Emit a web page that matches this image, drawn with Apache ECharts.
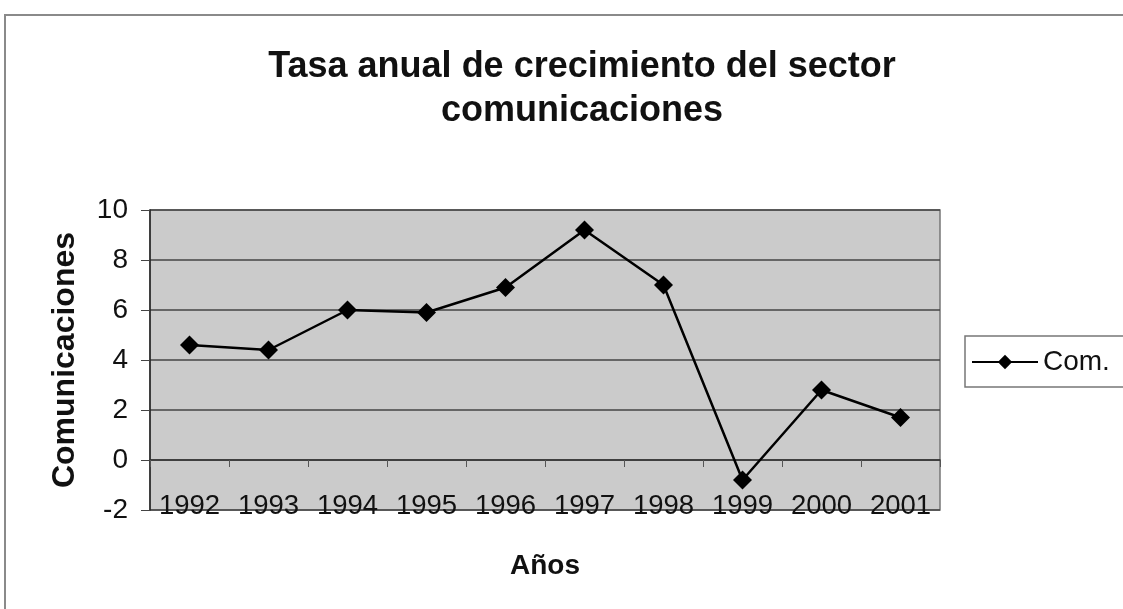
<!DOCTYPE html>
<html>
<head>
<meta charset="utf-8">
<script src="https://cdn.jsdelivr.net/npm/echarts@6/dist/echarts.min.js"></script>
<style>
html,body{margin:0;padding:0;background:#fff;}
#c{width:1123px;height:609px;}
</style>
</head>
<body>
<div id="c"></div>
<script>
const years = ['1992','1993','1994','1995','1996','1997','1998','1999','2000','2001'];
const comValues = [4.6, 4.4, 6.0, 5.9, 6.9, 9.2, 7.0, -0.8, 2.8, 1.7];
const seriesName = 'Com.';
const yMin = -2, yMax = 10, yStep = 2;

const chart = echarts.init(document.getElementById('c'), null, {renderer: 'canvas'});
const font = 'Liberation Sans, Arial, sans-serif';
chart.setOption({
  backgroundColor: '#fff',
  animation: false,
  title: {
    text: 'Tasa anual de crecimiento del sector\ncomunicaciones',
    left: 577, top: 40, textAlign: 'center',
    textStyle: {fontFamily: font, fontSize: 36, fontWeight: 'bold', color: '#111', lineHeight: 44}
  },
  graphic: [{
    type: 'rect', shape: {x: 5, y: 15, width: 1200, height: 700},
    style: {fill: 'none', stroke: '#8a8a8a', lineWidth: 2}, silent: true, z: -1
  }],
  legend: {
    data: [seriesName],
    left: 965, top: 336,
    orient: 'vertical',
    itemWidth: 66, itemHeight: 18, itemGap: 0,
    padding: [12, 40, 11, 6],
    borderColor: '#777', borderWidth: 1.5,
    backgroundColor: '#fff',
    textStyle: {fontFamily: font, fontSize: 28, color: '#111'}
  },
  grid: {
    left: 150, right: 183, top: 210, bottom: 99,
    show: true, backgroundColor: '#cbcbcb', borderColor: '#777', borderWidth: 1.5
  },
  xAxis: [{
    type: 'category', data: years, boundaryGap: true,
    axisLine: {onZero: true, lineStyle: {color: '#333', width: 1.5}},
    axisTick: {show: true, inside: false, length: 7, lineStyle: {color: '#555'}},
    axisLabel: {show: false}
  }, {
    type: 'category', data: years, boundaryGap: true, position: 'bottom',
    axisLine: {show: false}, axisTick: {show: false},
    axisLabel: {show: true, interval: 0, hideOverlap: false, margin: -4, verticalAlign: 'middle', fontFamily: font, fontSize: 27.5, color: '#111'},
    name: 'Años', nameLocation: 'middle', nameGap: 42,
    nameTextStyle: {fontFamily: font, fontSize: 28, fontWeight: 'bold', color: '#111'}
  }],
  yAxis: {
    type: 'value', min: yMin, max: yMax, interval: yStep,
    axisLine: {show: true, onZero: false, lineStyle: {color: '#222', width: 1.5}},
    axisTick: {show: true, length: 9, lineStyle: {color: '#444'}},
    axisLabel: {margin: 22, fontFamily: font, fontSize: 28, color: '#111'},
    splitLine: {show: true, lineStyle: {color: '#444', width: 1.5}},
    name: 'Comunicaciones', nameLocation: 'middle', nameGap: 69, nameRotate: 90,
    nameTextStyle: {fontFamily: font, fontSize: 32, fontWeight: 'bold', color: '#111'}
  },
  series: [{
    name: seriesName, type: 'line', data: comValues, xAxisIndex: 0,
    symbol: 'diamond', symbolSize: 19,
    lineStyle: {color: '#000', width: 2.5},
    itemStyle: {color: '#000'}
  }]
});
</script>
</body>
</html>
